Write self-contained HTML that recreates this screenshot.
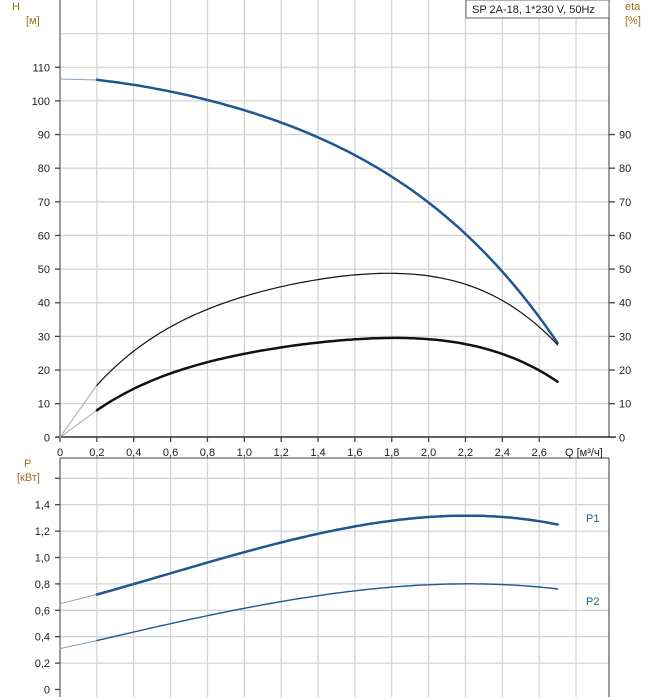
<!DOCTYPE html><html><head><meta charset="utf-8"><style>body{margin:0;background:#fff}svg{display:block;font-family:"Liberation Sans",sans-serif}</style></head><body>
<svg id="s" width="658" height="700" xmlns="http://www.w3.org/2000/svg">
<g id="grid" stroke="#d4d4d4" stroke-width="1.3"></g>
<g id="curves" fill="none" stroke-linecap="round"></g>
<g id="txt" font-size="11" fill="#222"></g>
<rect x="466" y="0" width="143" height="18" fill="#fff" stroke="#666"/>
<text x="472" y="13" font-size="11" fill="#222">SP 2A-18, 1*230 V, 50Hz</text>
<text x="12" y="10" font-size="11" fill="#a0701a">H</text>
<text x="26" y="24" font-size="11" fill="#a0701a">[м]</text>
<text x="625" y="10" font-size="11" fill="#a0701a">eta</text>
<text x="625" y="24" font-size="11" fill="#a0701a">[%]</text>
<text x="24" y="467" font-size="11" fill="#a0701a">P</text>
<text x="17" y="481" font-size="11" fill="#a0701a">[кВт]</text>
<text x="586" y="522" font-size="11" fill="#2a5a8a">P1</text>
<text x="586" y="605" font-size="11" fill="#2a5a8a">P2</text>
<text x="565" y="456" font-size="11" fill="#222">Q [м³/ч]</text>
</svg>
<script>
const NS="http://www.w3.org/2000/svg";
function el(p,t,a){const e=document.createElementNS(NS,t);for(const k in a)e.setAttribute(k,a[k]);document.getElementById(p).appendChild(e);return e;}
const X=q=>60+q*184.3, YH=h=>437.3-h*3.364, YP=p=>689.5-p*132;
for(let i=1;i<=15;i++){let x=X(i*0.2);if(x<609)el('grid','line',{x1:x,y1:0,x2:x,y2:437,});}
for(let h=10;h<=130;h+=10){let y=YH(h);if(y>0)el('grid','line',{x1:60,y1:y,x2:609,y2:y});}
for(let i=1;i<=15;i++){let x=X(i*0.2);if(x<609)el('grid','line',{x1:x,y1:458,x2:x,y2:697});}
for(let p=0.2;p<=1.65;p+=0.2){let y=YP(p);el('grid','line',{x1:60,y1:y,x2:609,y2:y});}
el('grid','line',{x1:60,y1:0,x2:60,y2:437,stroke:'#666'});
el('grid','line',{x1:609,y1:0,x2:609,y2:437,stroke:'#666'});
el('grid','line',{x1:56,y1:437,x2:616,y2:437,stroke:'#000'});
el('grid','line',{x1:60,y1:458,x2:60,y2:697,stroke:'#666'});
el('grid','line',{x1:609,y1:458,x2:609,y2:697,stroke:'#666'});
el('grid','line',{x1:60,y1:458,x2:609,y2:458,stroke:'#666'});
for(let h=0;h<=110;h+=10){let y=YH(h);el('grid','line',{x1:55,y1:y,x2:60,y2:y,stroke:'#444'});
 el('txt','text',{x:50,y:y+4,'text-anchor':'end'}).textContent=h;
 if(h<=90){el('grid','line',{x1:609,y1:y,x2:615,y2:y,stroke:'#444'});el('txt','text',{x:619,y:y+4}).textContent=h;}}
for(let i=0;i<=13;i++){let x=X(i*0.2);el('grid','line',{x1:x,y1:437,x2:x,y2:442,stroke:'#444'});
 el('txt','text',{x:x,y:456,'text-anchor':'middle'}).textContent=(i*0.2).toFixed(1).replace('.',',').replace(/^0,0$/,'0');}
for(let i=0;i<=8;i++){let p=i*0.2,y=YP(p);el('grid','line',{x1:55,y1:y,x2:60,y2:y,stroke:'#444'});
 if(i<8)el('txt','text',{x:50,y:y+4,'text-anchor':'end'}).textContent=p.toFixed(1).replace('.',',').replace(/^0,0$/,'0');}
function fit(pts,deg){const n=deg+1,A=[],b=[];for(let i=0;i<n;i++){A.push(new Array(n).fill(0));b.push(0);}
 for(const [x,y] of pts)for(let i=0;i<n;i++){b[i]+=y*Math.pow(x,i);for(let j=0;j<n;j++)A[i][j]+=Math.pow(x,i+j);}
 for(let i=0;i<n;i++){let m=i;for(let k=i+1;k<n;k++)if(Math.abs(A[k][i])>Math.abs(A[m][i]))m=k;[A[i],A[m]]=[A[m],A[i]];[b[i],b[m]]=[b[m],b[i]];
  for(let k=i+1;k<n;k++){const f=A[k][i]/A[i][i];for(let j=i;j<n;j++)A[k][j]-=f*A[i][j];b[k]-=f*b[i];}}
 const c=new Array(n).fill(0);for(let i=n-1;i>=0;i--){let s=b[i];for(let j=i+1;j<n;j++)s-=A[i][j]*c[j];c[i]=s/A[i][i];}
 return x=>c.reduce((s,ci,i)=>s+ci*Math.pow(x,i),0);}
function curve(data,Y,stroke,w,deg){const f=fit(data,deg||4);let d='';for(let q=0.2;q<=2.7001;q+=0.02){d+=(d?'L':'M')+X(q).toFixed(1)+' '+Y(f(q)).toFixed(1);}
 el('curves','path',{d:d,stroke:stroke,'stroke-width':w});}
function seg(a,b,Y,stroke){el('curves','line',{x1:X(a[0]),y1:Y(a[1]),x2:X(b[0]),y2:Y(b[1]),stroke:stroke,'stroke-width':1});}
seg([0,106.5],[0.2,106.2],YH,'#8aa0b8');
curve([[0.2,106.2],[0.6,103],[1.0,97],[1.4,89],[1.8,78],[2.2,60],[2.5,43],[2.7,28]],YH,'#1f5690',2.5);
seg([0,0],[0.2,15.5],YH,'#aaa');
curve([[0.2,15.5],[0.4,25.5],[0.6,33],[0.9,40],[1.2,44.8],[1.5,47.7],[1.77,48.7],[2.0,48],[2.2,45.5],[2.45,39],[2.7,27.5]],YH,'#111',1.2,5);
seg([0,0],[0.2,8],YH,'#aaa');
curve([[0.2,8],[0.4,14.5],[0.6,19],[0.9,23.5],[1.2,26.8],[1.5,28.8],[1.75,29.5],[2.0,29],[2.2,27.8],[2.45,23.8],[2.7,16.5]],YH,'#111',2.5,5);
seg([0,0.65],[0.2,0.72],YP,'#8aa0b8');
curve([[0.2,0.72],[0.6,0.88],[1.0,1.04],[1.4,1.18],[1.8,1.28],[2.2,1.315],[2.5,1.295],[2.7,1.25]],YP,'#1f5690',2.5,3);
seg([0,0.31],[0.2,0.37],YP,'#8aa0b8');
curve([[0.2,0.37],[0.6,0.5],[1.0,0.615],[1.4,0.71],[1.8,0.775],[2.2,0.8],[2.5,0.79],[2.7,0.76]],YP,'#1f5690',1.4,3);
</script></body></html>
